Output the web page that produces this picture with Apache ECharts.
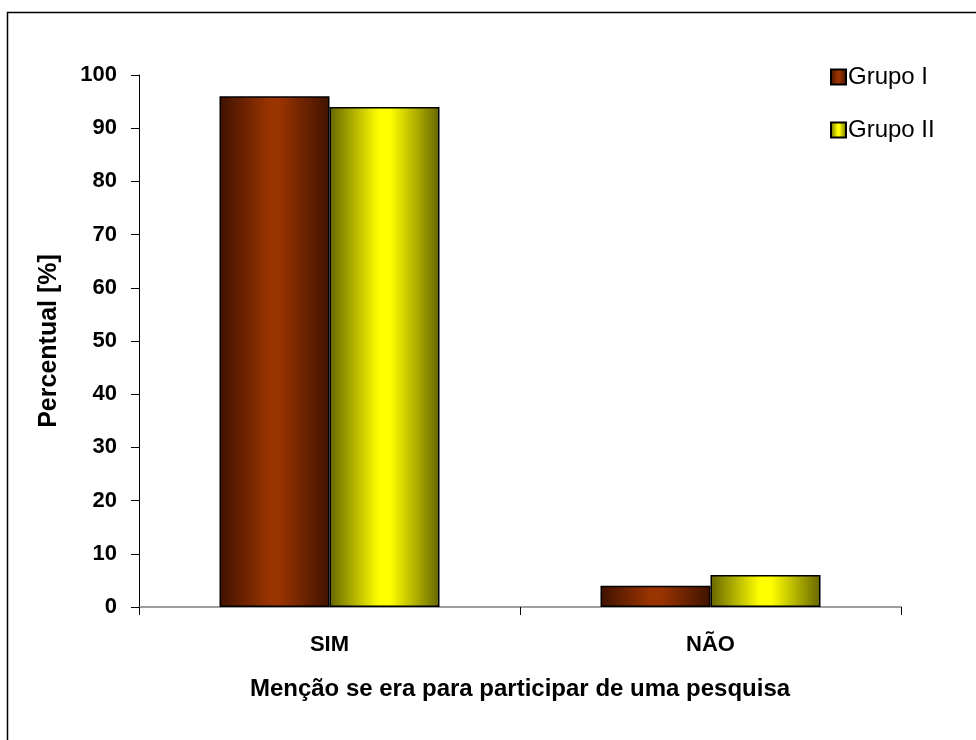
<!DOCTYPE html>
<html>
<head>
<meta charset="utf-8">
<script src="https://cdn.jsdelivr.net/npm/echarts@6/dist/echarts.min.js"></script>
<style>html,body{margin:0;padding:0;background:#fff}#c{width:976px;height:740px}</style>
</head>
<body>
<div id="c"></div>
<script>
var categories = ['SIM', 'NÃO'];
var grupoI = [96, 4];
var grupoII = [94, 6];
var seriesNames = ['Grupo I', 'Grupo II'];
var yTicks = { min: 0, max: 100, interval: 10 };

function grad(edge, mid) {
  return new echarts.graphic.LinearGradient(0, 0, 1, 0, [
    { offset: 0, color: edge },
    { offset: 0.45, color: mid },
    { offset: 0.55, color: mid },
    { offset: 1, color: edge }
  ]);
}

var font = 'Liberation Sans, Arial, sans-serif';
var chart = echarts.init(document.getElementById('c'), null, { renderer: 'canvas' });
chart.setOption({
  animation: false,
  backgroundColor: '#fff',
  graphic: [{
    type: 'rect', silent: true, z: -1,
    shape: { x: 7.5, y: 12.5, width: 1000, height: 800 },
    style: { fill: 'none', stroke: '#000', lineWidth: 1.5 }
  }],
  grid: { left: 139, right: 75, top: 75, bottom: 133, containLabel: false },
  legend: {
    orient: 'vertical', left: 825, top: 60,
    itemWidth: 15, itemHeight: 15, itemGap: 29, icon: 'rect',
    textStyle: { fontFamily: font, fontSize: 24, color: '#000', padding: [0, 0, 0, -3] },
    data: seriesNames
  },
  xAxis: {
    type: 'category', data: categories,
    axisLine: { lineStyle: { color: '#808080', width: 1.5 } },
    axisTick: { show: true, length: 8, alignWithLabel: false, lineStyle: { color: '#000', width: 1 } },
    axisLabel: { fontFamily: font, fontSize: 22, fontWeight: 'bold', color: '#000', margin: 27 },
    name: 'Menção se era para participar de uma pesquisa',
    nameLocation: 'middle', nameGap: 70,
    nameTextStyle: { fontFamily: font, fontSize: 24, fontWeight: 'bold', color: '#000' }
  },
  yAxis: {
    type: 'value', min: yTicks.min, max: yTicks.max, interval: yTicks.interval,
    splitLine: { show: false },
    axisLine: { show: true, lineStyle: { color: '#000', width: 1 } },
    axisTick: { show: true, length: 8, lineStyle: { color: '#000' } },
    axisLabel: { fontFamily: font, fontSize: 22, fontWeight: 'bold', color: '#000', margin: 22 },
    name: 'Percentual [%]', nameLocation: 'middle', nameGap: 77, nameRotate: 90,
    nameTextStyle: { fontFamily: font, fontSize: 25, fontWeight: 'bold', color: '#000' }
  },
  series: [{
    name: seriesNames[0], type: 'bar', data: grupoI, barWidth: 110, barGap: '0%',
    itemStyle: { color: grad('#3f1200', '#993300'), borderColor: '#000', borderWidth: 1.5 }
  }, {
    name: seriesNames[1], type: 'bar', data: grupoII, barWidth: 110, barGap: '0%',
    itemStyle: { color: grad('#666600', '#ffff00'), borderColor: '#000', borderWidth: 1.5 }
  }]
});
</script>
</body>
</html>
